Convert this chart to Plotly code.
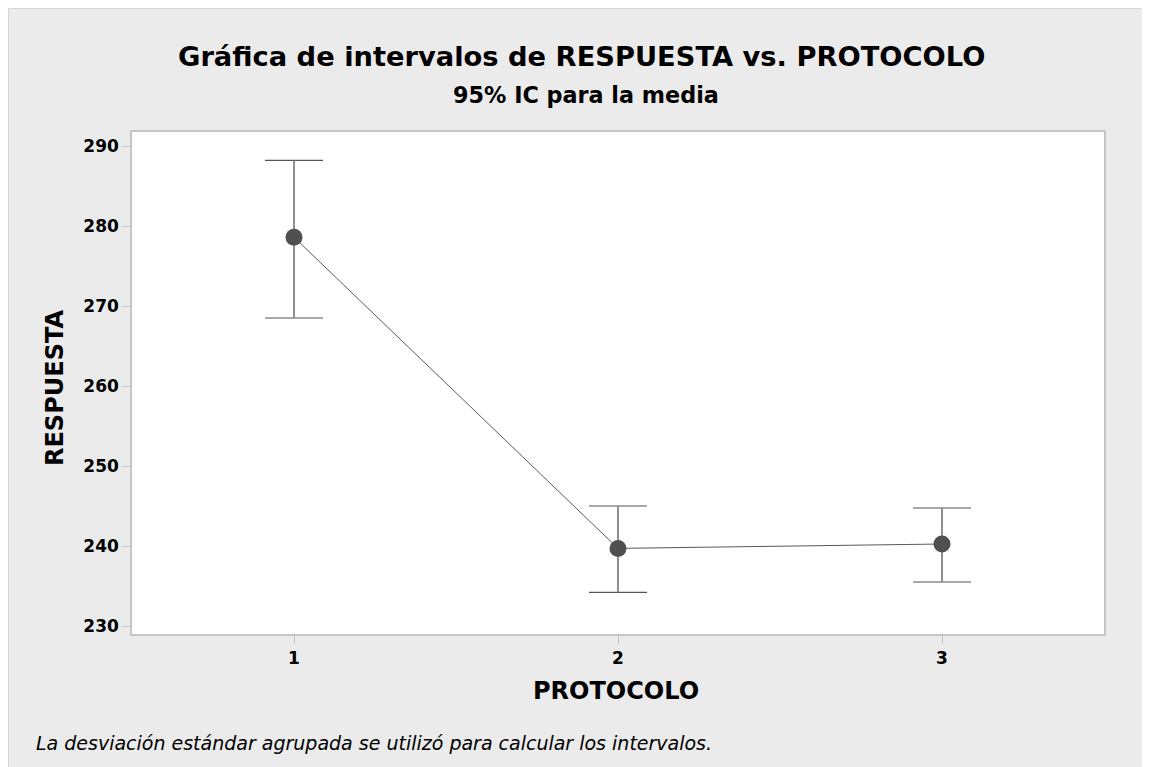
import plotly.graph_objects as go

# Data
protocolo = [1, 2, 3]
tick_labels = ["1", "2", "3"]
media = [278.6, 239.7, 240.25]
ic_sup = [288.2, 245.0, 244.75]
ic_inf = [268.5, 234.2, 235.5]
y_ticks = [230, 240, 250, 260, 270, 280, 290]

# page is offset by the default 8px body margin
OFF = 8
W, H = 1150 - OFF, 767 - OFF
ML, MR, MT, MB = 132 - OFF, 46, 132 - OFF, 133
PW, PH = W - ML - MR, H - MT - MB

def px(x_page):
    return (x_page - OFF - ML) / PW

def py(y_page):
    return (H - MB - (y_page - OFF)) / PH

FONT = "DejaVu Sans"

err_plus = [u - m for u, m in zip(ic_sup, media)]
err_minus = [m - l for m, l in zip(media, ic_inf)]

fig = go.Figure()
# caps (dark)
fig.add_trace(go.Scatter(
    x=protocolo, y=media, mode="markers", marker=dict(size=1, opacity=0),
    error_y=dict(type="data", symmetric=False, array=err_plus, arrayminus=err_minus,
                 color="#555555", thickness=1.2, width=29),
    showlegend=False, hoverinfo="skip",
))
# whiskers (lighter)
fig.add_trace(go.Scatter(
    x=protocolo, y=media, mode="markers", marker=dict(size=1, opacity=0),
    error_y=dict(type="data", symmetric=False, array=err_plus, arrayminus=err_minus,
                 color="#8e8e8e", thickness=1.6, width=0),
    showlegend=False, hoverinfo="skip",
))
# means connected
fig.add_trace(go.Scatter(
    x=protocolo, y=media, mode="lines+markers",
    line=dict(color="#5a5a5a", width=1),
    marker=dict(color="#505050", size=17),
    showlegend=False, hoverinfo="skip",
))

tickfont = dict(family=FONT, size=17, color="#000000", weight="bold")
fig.update_layout(
    width=W, height=H,
    margin=dict(l=ML, r=MR, t=MT, b=MB, autoexpand=False),
    paper_bgcolor="#ebebeb",
    plot_bgcolor="#ffffff",
    font=dict(family=FONT, color="#000000"),
    xaxis=dict(range=[0.5, 3.5], tickvals=protocolo, ticktext=tick_labels,
               showgrid=False, zeroline=False, showline=True, mirror=True,
               linecolor="#c6c6c6", linewidth=1.5, ticks="outside", ticklen=8,
               tickcolor="#c6c6c6", tickwidth=1, tickfont=tickfont),
    yaxis=dict(range=[229, 291.75], tickvals=y_ticks,
               showgrid=False, zeroline=False, showline=True, mirror=True,
               linecolor="#c6c6c6", linewidth=1.5, ticks="outside", ticklen=8,
               tickcolor="#c6c6c6", tickwidth=1, tickfont=tickfont),
)

ann = [
    dict(text="<b>Gráfica de intervalos de RESPUESTA vs. PROTOCOLO</b>", x=px(581), y=py(57),
         font=dict(size=27.3)),
    dict(text="<b>95% IC para la media</b>", x=px(586), y=py(95), font=dict(size=22.3)),
    dict(text="<b>PROTOCOLO</b>", x=px(616), y=py(691), font=dict(size=24)),
    dict(text="<b>RESPUESTA</b>", x=px(55), y=py(388), font=dict(size=24), textangle=-90),
    dict(text="<i>La desviación estándar agrupada se utilizó para calcular los intervalos.</i>",
         x=px(34), y=py(743), xanchor="left", font=dict(size=19)),
]
for a in ann:
    a.setdefault("xanchor", "center")
    a.update(xref="paper", yref="paper", yanchor="middle", showarrow=False)
    a["font"] = dict(family=FONT, color="#000000", **a["font"])
    fig.add_annotation(**a)

# thin outer frame line on left and top
shapes = [
    dict(type="line", x0=px(OFF + 0.5), x1=px(OFF + 0.5), y0=py(767), y1=py(OFF),
         line=dict(color="#d6d6d6", width=1)),
    dict(type="line", x0=px(OFF), x1=px(1150), y0=py(OFF + 0.5), y1=py(OFF + 0.5),
         line=dict(color="#d6d6d6", width=1)),
]
for s in shapes:
    s.update(xref="paper", yref="paper", layer="above")
    fig.add_shape(**s)

fig.write_html("out.html")
